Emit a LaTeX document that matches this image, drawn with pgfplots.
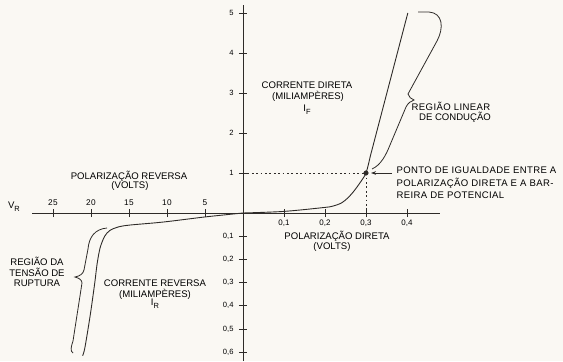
\documentclass[border=0pt]{standalone}
\usepackage{pgfplots}
\pgfplotsset{compat=1.18}
\usepackage{pgfplotstable}
\usetikzlibrary{arrows.meta}
\usepackage{fontspec}
\setmainfont{Liberation Sans}
\newfontfamily\widesans[LetterSpace=4]{Liberation Sans}
\definecolor{ink}{HTML}{2E2B28}
\definecolor{paper}{HTML}{FAF8F3}
\newcommand\lbl{\fontsize{9.6}{11}\selectfont}
\newcommand\wlbl{\widesans\fontsize{9.6}{11}\selectfont}
\newcommand\tkl{\fontsize{7.6}{9}\selectfont}
\newcommand\tkx{\widesans\fontsize{8.3}{9}\selectfont}
% forward characteristic: V (volts), I (mA)
\pgfplotstableread{
V I
0 0
0.1 0.04
0.2 0.14
0.22 0.175
0.24 0.25
0.255 0.37
0.27 0.54
0.285 0.75
0.3 1.0
0.31 1.4
}\fwdknee
\pgfplotstableread{
V I
0.31 1.4
0.402 5.0
}\fwdlin
% reverse characteristic: V (volts), I (mA)
\pgfplotstableread{
V I
0 0
5.0 0.017
10.5 0.039
14.9 0.052
16.4 0.060
17.5 0.075
18.2 0.10
18.8 0.15
19.2 0.22
19.5 0.30
20.1 0.44
20.8 0.58
21.1 0.615
}\rev
\begin{document}
\begin{tikzpicture}
\fill[paper] (-32bp,0) rectangle (531bp,361bp);
\begin{axis}[
  x=1bp, y=1bp,
  xmin=-211, xmax=197, ymin=-148, ymax=208,
  axis lines=middle,
  axis line style={-, ink, line width=0.8bp},
  clip=false,
  xtick={-190,-152,-114,-76,-38,41,82,123,164},
  ytick={-139.2,-116,-92.8,-69.6,-46.4,-23.2,40,80,120,160,200},
  xticklabels={}, yticklabels={},
  tick align=center, major tick length=8bp,
  tick style={ink, line width=0.8bp},
  every node/.style={text=ink},
]
% curves
\addplot[ink, line width=0.9bp, smooth, no markers] table[x expr=\thisrow{V}*410, y expr=\thisrow{I}*40] {\fwdknee};
\addplot[ink, line width=0.9bp, no markers] table[x expr=\thisrow{V}*410, y expr=\thisrow{I}*40] {\fwdlin};
\addplot[ink, line width=0.9bp, smooth, no markers] table[x expr=-\thisrow{V}*7.6, y expr=-\thisrow{I}*232] {\rev};
% dotted guides and point
\addplot[ink, line width=0.9bp, dash pattern=on 1.8bp off 2.6bp, no markers] table[x expr=\thisrow{V}*410, y expr=\thisrow{I}*40] {
V I
0 1
0.3 1
0.3 0
};
\addplot[ink, only marks, mark=*, mark size=2.3bp] table[x expr=\thisrow{V}*410, y expr=\thisrow{I}*40] {
V I
0.3 1
};
% arrow to point
\draw[ink, line width=0.8bp, -{Stealth[length=5bp,width=3.6bp]}] (149,40) -- (128,40);
% braces
\draw[ink, line width=0.8bp] (129,44) .. controls (138,48) and (143,58) .. (147,68) -- (163,106)
  .. controls (165,110) and (168,112) .. (171,113) .. controls (168,114) and (166,116) .. (165,119)
  -- (194,172) .. controls (201,185) and (200,200) .. (186,201) -- (175,201);
\draw[ink, line width=0.8bp] (-136,-15) .. controls (-148,-16) and (-154,-24) .. (-155,-36) -- (-159,-57)
  .. controls (-160,-61) and (-163,-63) .. (-168,-64) .. controls (-164,-65) and (-161,-67) .. (-161,-70)
  -- (-170,-128) .. controls (-172,-134) and (-173,-138) .. (-170,-140);
% tick labels
\node[font=\tkx] at (-190,10) {25};
\node[font=\tkx] at (-152,10) {20};
\node[font=\tkx] at (-114,10) {15};
\node[font=\tkx] at (-76,10) {10};
\node[font=\tkx] at (-38,10) {5};
\node[font=\fontsize{8}{9}\selectfont] at (41,-10.5) {0,1};
\node[font=\fontsize{8}{9}\selectfont] at (82,-10.5) {0,2};
\node[font=\fontsize{8}{9}\selectfont] at (123,-10.5) {0,3};
\node[font=\fontsize{8}{9}\selectfont] at (164,-10.5) {0,4};
\node[font=\tkl, anchor=east] at (-6,40) {1};
\node[font=\tkl, anchor=east] at (-6,80) {2};
\node[font=\tkl, anchor=east] at (-6,120) {3};
\node[font=\tkl, anchor=east] at (-6,160) {4};
\node[font=\tkl, anchor=east] at (-6,200) {5};
\node[font=\tkl, anchor=east] at (-6,-23.2) {0,1};
\node[font=\tkl, anchor=east] at (-6,-46.4) {0,2};
\node[font=\tkl, anchor=east] at (-6,-69.6) {0,3};
\node[font=\tkl, anchor=east] at (-6,-92.8) {0,4};
\node[font=\tkl, anchor=east] at (-6,-116) {0,5};
\node[font=\tkl, anchor=east] at (-6,-139.2) {0,6};
% labels
\node[font=\lbl] at (-229,6) {V\raisebox{-3bp}{\fontsize{7.5}{8}\selectfont R}};
\node[font=\lbl] at (64,128) {CORRENTE DIRETA};
\node[font=\lbl] at (65,117) {(MILIAMPÈRES)};
\node[font=\lbl] at (64,103) {I\raisebox{-3bp}{\fontsize{7.5}{8}\selectfont F}};
\node[font=\wlbl] at (208,107) {REGIÃO LINEAR};
\node[font=\lbl] at (212,96) {DE CONDUÇÃO};
\node[font=\wlbl, anchor=west] at (150,43) {PONTO DE IGUALDADE ENTRE A};
\node[font=\wlbl, anchor=west] at (150,30) {POLARIZAÇÃO DIRETA E A BAR-};
\node[font=\wlbl, anchor=west] at (150,18) {REIRA DE POTENCIAL};
\node[font=\lbl] at (-114,37) {POLARIZAÇÃO REVERSA};
\node[font=\lbl] at (-113,27) {(VOLTS)};
\node[font=\lbl] at (94,-23) {POLARIZAÇÃO DIRETA};
\node[font=\lbl] at (89,-34) {(VOLTS)};
\node[font=\lbl] at (-206,-48) {REGIÃO DA};
\node[font=\lbl] at (-206,-59) {TENSÃO DE};
\node[font=\lbl] at (-206,-70) {RUPTURA};
\node[font=\lbl] at (-88,-70) {CORRENTE REVERSA};
\node[font=\lbl] at (-88,-81) {(MILIAMPÈRES)};
\node[font=\lbl] at (-88,-91) {I\raisebox{-3bp}{\fontsize{7.5}{8}\selectfont R}};
\end{axis}
\end{tikzpicture}
\end{document}
